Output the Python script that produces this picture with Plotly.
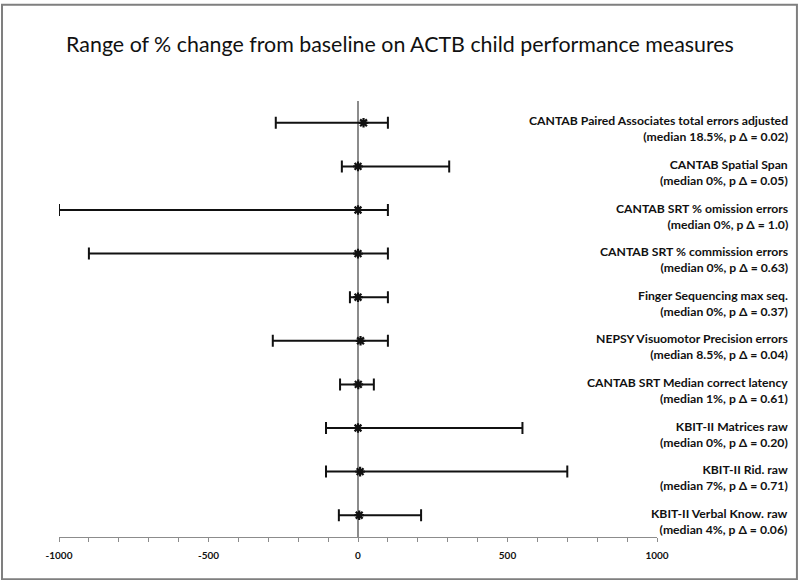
import plotly.graph_objects as go

measures = [
    "CANTAB Paired Associates total errors adjusted",
    "CANTAB Spatial Span",
    "CANTAB SRT % omission errors",
    "CANTAB SRT % commission errors",
    "Finger Sequencing max seq.",
    "NEPSY Visuomotor Precision errors",
    "CANTAB SRT Median correct latency",
    "KBIT-II Matrices raw",
    "KBIT-II Rid. raw",
    "KBIT-II Verbal Know. raw",
]
details = [
    "(median 18.5%, p Δ = 0.02)",
    "(median 0%, p Δ = 0.05)",
    "(median 0%, p Δ = 1.0)",
    "(median 0%, p Δ = 0.63)",
    "(median 0%, p Δ = 0.37)",
    "(median 8.5%, p Δ = 0.04)",
    "(median 1%, p Δ = 0.61)",
    "(median 0%, p Δ = 0.20)",
    "(median 7%, p Δ = 0.71)",
    "(median 4%, p Δ = 0.06)",
]
medians = [18.5, 0, 0, 0, 0, 8.5, 1, 0, 7, 4]
lows = [-275, -54, -1000, -900, -27, -285, -60, -107, -107, -64]
highs = [100, 305, 100, 100, 100, 100, 53, 550, 700, 211]
tick_values = [-1000, -500, 0, 500, 1000]

rows = list(range(len(measures)))
err_plus = [h - m for h, m in zip(highs, medians)]
err_minus = [m - l for m, l in zip(medians, lows)]

fig = go.Figure()
fig.add_trace(go.Scatter(
    x=medians, y=rows, mode="markers",
    marker=dict(symbol="asterisk-open", size=8, color="#111111",
                line=dict(width=2.2, color="#111111")),
    error_x=dict(type="data", symmetric=False, array=err_plus, arrayminus=err_minus,
                 color="#111111", thickness=2, width=6),
    showlegend=False, hoverinfo="skip",
))

font_family = "Lato, 'Open Sans', sans-serif"
for r, (a, b) in enumerate(zip(measures, details)):
    fig.add_annotation(
        x=1.2225, xref="paper", y=r, yref="y",
        text=f"<b>{a}</b><br><b>{b}</b>",
        showarrow=False, xanchor="right", yanchor="middle", align="right",
        yshift=-6, font=dict(family=font_family, size=12.2, color="#111111"),
    )

# outer frame
fig.add_shape(type="rect", xref="paper", yref="paper",
              x0=-0.0953, x1=1.234, y0=-0.097, y1=1.221,
              line=dict(color="#7f7f7f", width=2), fillcolor="rgba(0,0,0,0)")

fig.update_layout(
    width=800, height=580,
    margin=dict(l=59, r=143, t=101, b=43),
    paper_bgcolor="white", plot_bgcolor="white",
    title=dict(text="Range of % change from baseline on ACTB child performance measures",
               x=0.5, xref="container", xanchor="center", y=1 - 45 / 580, yanchor="middle",
               font=dict(family=font_family, size=21.4, color="#111111")),
    xaxis=dict(range=[-1000, 1000], tickvals=tick_values,
               ticktext=[f"<b>{v}</b>" for v in tick_values], showgrid=False,
               zeroline=True, zerolinecolor="#8c8c8c", zerolinewidth=1.5,
               showline=True, linecolor="#8c8c8c", linewidth=1.2,
               ticks="outside", ticklen=4, tickcolor="#8c8c8c",
               minor=dict(dtick=100, ticks="outside", ticklen=4, tickcolor="#8c8c8c"),
               tickfont=dict(family=font_family, size=10, color="#111111"),
               ticklabelstandoff=5,
               fixedrange=True),
    yaxis=dict(range=[9.5, -0.5], showgrid=False, zeroline=False, showticklabels=False,
               showline=False, ticks="", fixedrange=True),
)

fig.write_html("out.html", config={"displayModeBar": False},
               post_script="document.body.style.margin='0';document.body.style.overflow='hidden';")
